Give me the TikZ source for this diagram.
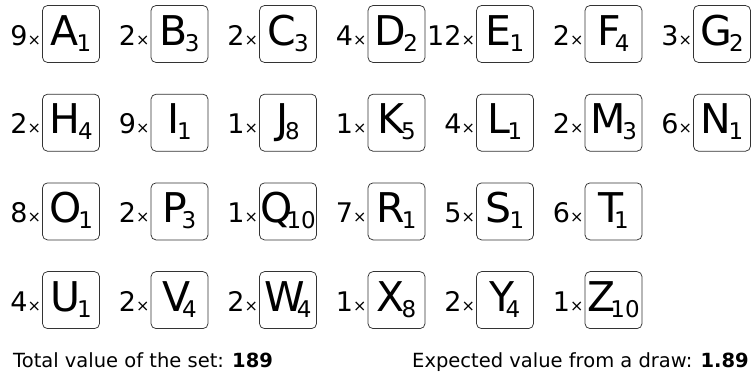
\documentclass[tikz,border=0pt]{standalone}
\usepackage{fontspec}
\setmainfont{DejaVu Sans}
\usepackage{tikz}
\usetikzlibrary{calc}
\newcommand{\letterfont}{\fontsize{41}{41}\selectfont}
\newcommand{\valuefont}{\fontsize{23}{23}\selectfont}
\newcommand{\countfont}{\fontsize{27}{27}\selectfont}
\newcommand{\timesfont}{\fontsize{16}{16}\selectfont}
\tikzset{every picture/.append style={x=1pt, y=-1pt}}
\tikzset{tilebox/.style={draw=black!80, line width=0.75pt, rounded corners=5pt, minimum width=57pt, minimum height=57pt, inner sep=0pt, text height=28pt, text depth=6pt}}
\tikzset{countlabel/.style={inner sep=1pt, anchor=base east}}
\tikzset{footnote/.style={inner sep=0pt, font=\fontsize{19.5}{19.5}\selectfont}}
% tile: [kern]{letter}{value}{count}{column}{row}
\newcommand{\tile}[6][-2pt]{%
  \node (t#2) at (71+108.5*#5, 34+88.7*#6)[tilebox]{{\letterfont #2}\kern#1\raisebox{-6pt}{\valuefont #3}};
  \node (n#2) at (t#2.base west)[countlabel]{{\countfont #4}{\timesfont ×}};
}

\begin{document}
\begin{tikzpicture}
  \useasboundingbox (0,0) rectangle (751,373);
  \tile[-2pt]{A}{1}{9}{0}{0}
  \tile[-3pt]{B}{3}{2}{1}{0}
  \tile[-2pt]{C}{3}{2}{2}{0}
  \tile[-3pt]{D}{2}{4}{3}{0}
  \tile[-2pt]{E}{1}{12}{4}{0}
  \tile[-6pt]{F}{4}{2}{5}{0}
  \tile[-3pt]{G}{2}{3}{6}{0}
  \tile[-2pt]{H}{4}{2}{0}{1}
  \tile[-2pt]{I}{1}{9}{1}{1}
  \tile[-3pt]{J}{8}{1}{2}{1}
  \tile[-3pt]{K}{5}{1}{3}{1}
  \tile[-3pt]{L}{1}{4}{4}{1}
  \tile[-3pt]{M}{3}{2}{5}{1}
  \tile[-3pt]{N}{1}{6}{6}{1}
  \tile[-3pt]{O}{1}{8}{0}{2}
  \tile[-6pt]{P}{3}{2}{1}{2}
  \tile[-6pt]{Q}{10}{1}{2}{2}
  \tile[-3pt]{R}{1}{7}{3}{2}
  \tile[-2pt]{S}{1}{5}{4}{2}
  \tile[-9pt]{T}{1}{6}{5}{2}
  \tile[-3pt]{U}{1}{4}{0}{3}
  \tile[-8pt]{V}{4}{2}{1}{3}
  \tile[-8pt]{W}{4}{2}{2}{3}
  \tile[-3pt]{X}{8}{1}{3}{3}
  \tile[-9pt]{Y}{4}{2}{4}{3}
  \tile[-5pt]{Z}{10}{1}{5}{3}

  \node (total) at (13,367)[footnote, anchor=base west]{Total value of the set: \textbf{189}};
  \node (expect) at (412,367)[footnote, anchor=base west]{Expected value from a draw: \textbf{1.89}};
\end{tikzpicture}
\end{document}
